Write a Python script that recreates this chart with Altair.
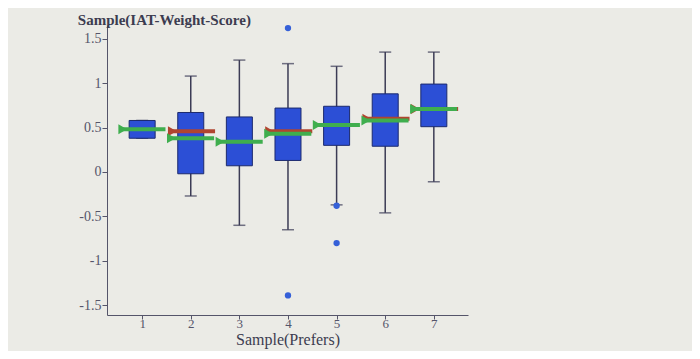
import altair as alt
import pandas as pd

cats = [1, 2, 3, 4, 5, 6, 7]
q1 = [0.38, -0.02, 0.07, 0.13, 0.30, 0.29, 0.51]
q3 = [0.58, 0.67, 0.62, 0.72, 0.74, 0.88, 0.99]
wlo = [0.38, -0.27, -0.60, -0.65, -0.37, -0.46, -0.11]
whi = [0.58, 1.08, 1.26, 1.22, 1.19, 1.35, 1.35]
green = [0.48, 0.38, 0.34, 0.43, 0.53, 0.58, 0.71]
red_cats = [2, 4, 6, 7]
red = [0.46, 0.46, 0.60, 0.71]
out_cats = [4, 4, 5, 5]
out_vals = [1.62, -1.39, -0.38, -0.80]

box_df = pd.DataFrame({"cat": cats, "q1": q1, "q3": q3, "wlo": wlo, "whi": whi, "g": green})
red_df = pd.DataFrame({"cat": red_cats, "r": red})
out_df = pd.DataFrame({"cat": out_cats, "v": out_vals})
cap_df = pd.DataFrame({"cat": cats * 2, "v": wlo + whi, "show": [l != h for l, h in zip(wlo, whi)] * 2})
cap_df = cap_df[cap_df["show"]]

FONT = "Liberation Serif"
xs = alt.Scale(domain=[0.38, 7.6], nice=False, zero=False)
ys = alt.Scale(domain=[-1.61, 1.655], nice=False, zero=False)

xaxis = alt.Axis(values=cats, title="Sample(Prefers)", grid=False, labelFont=FONT, titleFont=FONT,
                 labelFontSize=13, titleFontSize=16, titleFontWeight="normal", labelColor="#55556a",
                 titleColor="#3c3c50", domainColor="#55556a", tickColor="#55556a", tickSize=4,
                 labelPadding=-2, titlePadding=1)
yaxis = alt.Axis(values=[-1.5, -1, -0.5, 0, 0.5, 1, 1.5], title=None, grid=False, labelFont=FONT,
                 labelFontSize=14, labelColor="#55556a", labelExpr="'' + datum.value",
                 domainColor="#55556a", tickColor="#55556a", tickSize=5, labelPadding=1)

base = alt.Chart(box_df)

whisk = base.mark_rule(color="#3b3b55", strokeWidth=1.5).encode(
    x=alt.X("cat:Q", scale=xs, axis=xaxis), y=alt.Y("wlo:Q", scale=ys, axis=yaxis), y2="whi:Q")
caps = alt.Chart(cap_df).mark_tick(orient="horizontal", size=12, thickness=1.5, color="#3b3b55").encode(
    x=alt.X("cat:Q", scale=xs), y=alt.Y("v:Q", scale=ys))
boxes = base.mark_bar(size=26, color="#2c4fd6", stroke="#1c2a6e", strokeWidth=1).encode(
    x=alt.X("cat:Q", scale=xs), y=alt.Y("q1:Q", scale=ys), y2="q3:Q")
outs = alt.Chart(out_df).mark_point(filled=True, size=40, color="#3560d8", opacity=1).encode(
    x=alt.X("cat:Q", scale=xs), y=alt.Y("v:Q", scale=ys))

gseg = base.transform_calculate(x1="datum.cat - 0.42", x2="datum.cat + 0.48").mark_rule(
    color="#3fae4e", strokeWidth=4).encode(x=alt.X("x1:Q", scale=xs), x2="x2:Q", y=alt.Y("g:Q", scale=ys))
gtri = base.transform_calculate(x1="datum.cat - 0.40").mark_point(
    shape="triangle-right", filled=True, size=100, color="#3fae4e", opacity=1).encode(
    x=alt.X("x1:Q", scale=xs), y=alt.Y("g:Q", scale=ys))
rseg = alt.Chart(red_df).transform_calculate(x1="datum.cat - 0.40", x2="datum.cat + 0.50").mark_rule(
    color="#b0452f", strokeWidth=4).encode(x=alt.X("x1:Q", scale=xs), x2="x2:Q", y=alt.Y("r:Q", scale=ys))
rtri = alt.Chart(red_df).transform_calculate(x1="datum.cat - 0.38").mark_point(
    shape="triangle-right", filled=True, size=100, color="#b0452f", opacity=1).encode(
    x=alt.X("x1:Q", scale=xs), y=alt.Y("r:Q", scale=ys))

chart = alt.layer(whisk, caps, boxes, outs, rseg, rtri, gseg, gtri).properties(
    width=361, height=290,
    autosize=alt.AutoSizeParams(type="none"),
    padding={"left": 99, "top": 17, "right": 224, "bottom": 36},
    background="#ebebe6",
    title=alt.TitleParams("Sample(IAT-Weight-Score)", anchor="start", dx=-1, offset=-3,
                          font=FONT, fontSize=15, fontWeight="bold", color="#3c3c50"),
).configure_view(stroke=None)

chart.save("out.html", embed_options={"renderer": "svg", "actions": False})
